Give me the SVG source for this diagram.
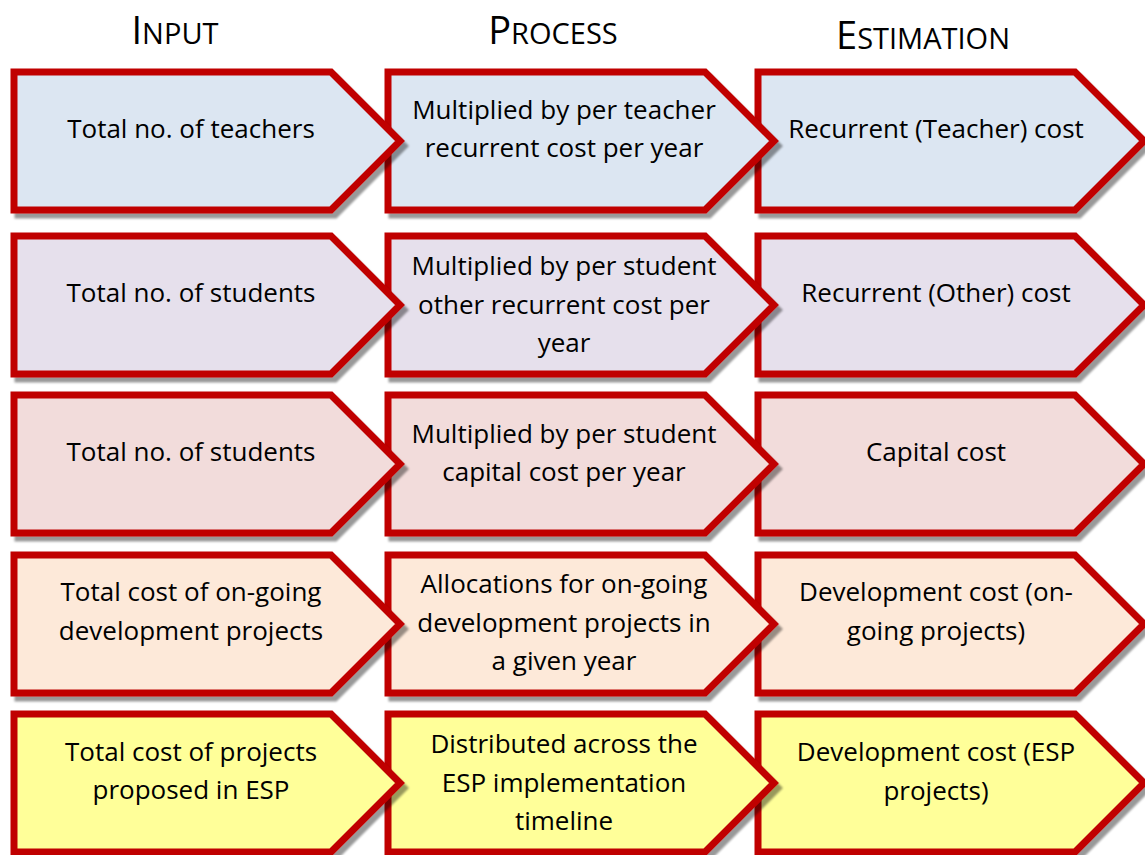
<svg xmlns="http://www.w3.org/2000/svg" xmlns:xlink="http://www.w3.org/1999/xlink" width="1145" height="855" viewBox="0 0 1145 855">
<defs>
<filter id="sh" x="-5%" y="-5%" width="115%" height="120%">
<feDropShadow dx="4" dy="5" stdDeviation="1" flood-color="#000" flood-opacity="0.4"/>
</filter>
<path id="chev" d="M0,0 H317 L386,69 L317,138 H0 Z"/>
<style>
.s{stroke:#C00000;stroke-width:7;stroke-linejoin:miter;filter:url(#sh)}
.c1{fill:#DCE6F2}.c2{fill:#E6E0EC}.c3{fill:#F2DCDB}.c4{fill:#FDE9D9}.c5{fill:#FFFF99}
text{font-family:"Open Sans","Noto Sans","DejaVu Sans",sans-serif;fill:#000;text-anchor:middle}
.t{font-size:26px}
.h{font-size:38px}
.sc{font-size:29px}
</style>
</defs>
<g id="headers">
<text class="h" x="175" y="44">I<tspan class="sc">NPUT</tspan></text>
<text class="h" x="553" y="44">P<tspan class="sc">ROCESS</tspan></text>
<text class="h" x="923" y="49">E<tspan class="sc">STIMATION</tspan></text>
</g>
<g id="row1">
<g id="est1"><use xlink:href="#chev" href="#chev" x="758" y="72" class="s c1"/><text class="t" x="936" y="138">Recurrent (Teacher) cost</text></g>
<g id="proc1"><use xlink:href="#chev" href="#chev" x="388" y="72" class="s c1"/><text class="t" x="564" y="119">Multiplied by per teacher</text><text class="t" x="564" y="157">recurrent cost per year</text></g>
<g id="in1"><use xlink:href="#chev" href="#chev" x="14" y="72" class="s c1"/><text class="t" x="191" y="138">Total no. of teachers</text></g>
</g>
<g id="row2">
<g id="est2"><use xlink:href="#chev" href="#chev" x="758" y="236" class="s c2"/><text class="t" x="936" y="302">Recurrent (Other) cost</text></g>
<g id="proc2"><use xlink:href="#chev" href="#chev" x="388" y="236" class="s c2"/><text class="t" x="564" y="275">Multiplied by per student</text><text class="t" x="564" y="314">other recurrent cost per</text><text class="t" x="564" y="352">year</text></g>
<g id="in2"><use xlink:href="#chev" href="#chev" x="14" y="236" class="s c2"/><text class="t" x="191" y="302">Total no. of students</text></g>
</g>
<g id="row3">
<g id="est3"><use xlink:href="#chev" href="#chev" x="758" y="395" class="s c3"/><text class="t" x="936" y="461">Capital cost</text></g>
<g id="proc3"><use xlink:href="#chev" href="#chev" x="388" y="395" class="s c3"/><text class="t" x="564" y="443">Multiplied by per student</text><text class="t" x="564" y="481">capital cost per year</text></g>
<g id="in3"><use xlink:href="#chev" href="#chev" x="14" y="395" class="s c3"/><text class="t" x="191" y="461">Total no. of students</text></g>
</g>
<g id="row4">
<g id="est4"><use xlink:href="#chev" href="#chev" x="758" y="555" class="s c4"/><text class="t" x="936" y="601">Development cost (on-</text><text class="t" x="936" y="640">going projects)</text></g>
<g id="proc4"><use xlink:href="#chev" href="#chev" x="388" y="555" class="s c4"/><text class="t" x="564" y="593">Allocations for on-going</text><text class="t" x="564" y="632">development projects in</text><text class="t" x="564" y="670">a given year</text></g>
<g id="in4"><use xlink:href="#chev" href="#chev" x="14" y="555" class="s c4"/><text class="t" x="191" y="601">Total cost of on-going</text><text class="t" x="191" y="640">development projects</text></g>
</g>
<g id="row5">
<g id="est5"><use xlink:href="#chev" href="#chev" x="758" y="714" class="s c5"/><text class="t" x="936" y="761">Development cost (ESP</text><text class="t" x="936" y="800">projects)</text></g>
<g id="proc5"><use xlink:href="#chev" href="#chev" x="388" y="714" class="s c5"/><text class="t" x="564" y="753">Distributed across the</text><text class="t" x="564" y="792">ESP implementation</text><text class="t" x="564" y="830">timeline</text></g>
<g id="in5"><use xlink:href="#chev" href="#chev" x="14" y="714" class="s c5"/><text class="t" x="191" y="761">Total cost of projects</text><text class="t" x="191" y="799">proposed in ESP</text></g>
</g>
</svg>
